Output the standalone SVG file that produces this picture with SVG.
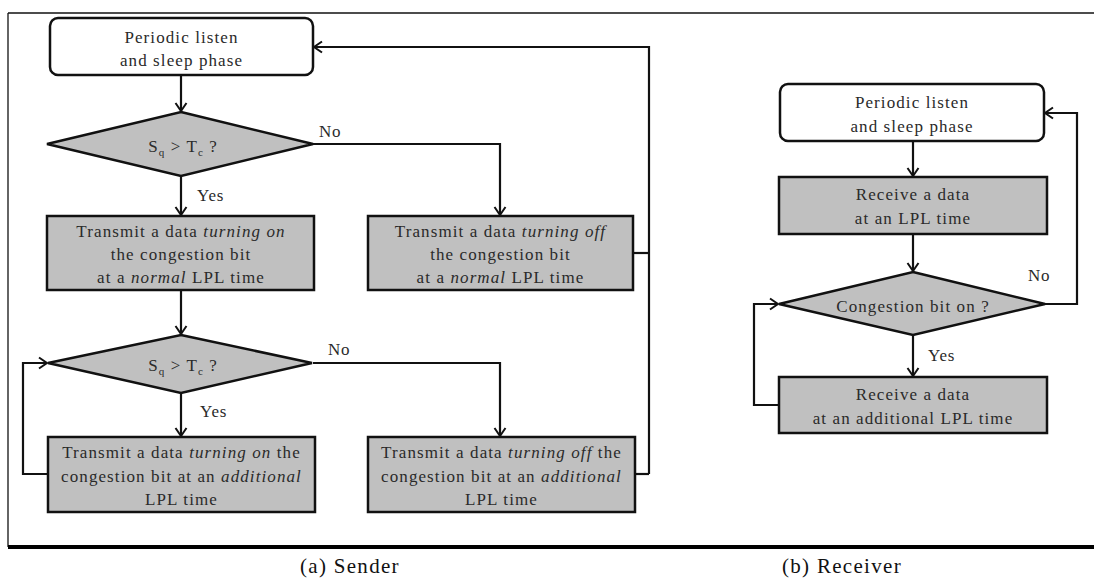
<svg xmlns="http://www.w3.org/2000/svg" width="1094" height="579" viewBox="0 0 1094 579">
<style>
.t{font-family:"Liberation Serif","Times New Roman",serif;font-size:17px;fill:#2a2a2a;text-anchor:middle;letter-spacing:1.1px}
.l{font-family:"Liberation Serif","Times New Roman",serif;font-size:17px;fill:#2a2a2a;letter-spacing:0.8px}
.cap{font-family:"Liberation Serif","Times New Roman",serif;font-size:21px;fill:#111;letter-spacing:1.3px}
.term{fill:#fff;stroke:#111;stroke-width:2.5}
.proc{fill:#c0c0c0;stroke:#111;stroke-width:2.5}
.c{fill:none;stroke:#111;stroke-width:2.2}
.ar{marker-end:url(#arr)}
.sub{font-size:11px}
</style>
<defs>
<marker id="arr" viewBox="-10 -7 12 14" refX="0" refY="0" markerWidth="12" markerHeight="14" markerUnits="userSpaceOnUse" orient="auto">
<path d="M-8,-5.5 L0,0 L-8,5.5" fill="none" stroke="#111" stroke-width="2"/>
</marker>
</defs>

<g id="frame">
<line x1="8" y1="13" x2="1094" y2="13" stroke="#111" stroke-width="1.3"/>
<line x1="8" y1="13" x2="8" y2="547" stroke="#111" stroke-width="1.3"/>
<line x1="8" y1="547" x2="1094" y2="547" stroke="#000" stroke-width="4"/>
</g>

<g id="connectors">
<path class="c ar" d="M181,75 V111"/>
<path class="c ar" d="M313,144 H500 V215"/>
<path class="c ar" d="M181,176 V215"/>
<path class="c" d="M633,253 H649"/>
<path class="c ar" d="M649,474 V47 H314"/>
<path class="c ar" d="M181,290 V334"/>
<path class="c ar" d="M313,363 H500 V436"/>
<path class="c ar" d="M181,393 V436"/>
<path class="c ar" d="M48,474 H23 V363 H47"/>
<path class="c" d="M635,474 H649"/>
<path class="c ar" d="M913,141 V176"/>
<path class="c ar" d="M913,234 V271"/>
<path class="c ar" d="M1045,304 H1077 V113 H1045"/>
<path class="c ar" d="M913,335 V376"/>
<path class="c ar" d="M779,405 H754 V304 H778"/>
<text class="l" x="319" y="137">No</text>
<text class="l" x="197" y="201">Yes</text>
<text class="l" x="328" y="355">No</text>
<text class="l" x="200" y="417">Yes</text>
<text class="l" x="1028" y="281">No</text>
<text class="l" x="928" y="361">Yes</text>
</g>

<g id="s_start">
<rect class="term" x="50" y="18" width="263" height="57" rx="8"/>
<text class="t" x="181.5" y="43">Periodic listen</text>
<text class="t" x="181.5" y="66">and sleep phase</text>
</g>

<g id="s_dec1">
<polygon class="proc" points="181,112 313,144 181,176 47,144"/>
<text class="t" x="183" y="152">S<tspan class="sub" dy="4">q</tspan><tspan dy="-4"> &gt; T</tspan><tspan class="sub" dy="4">c</tspan><tspan dy="-4"> ?</tspan></text>
</g>

<g id="s_on_normal">
<rect class="proc" x="47" y="216" width="267" height="74"/>
<text class="t" x="181" y="237">Transmit a data <tspan font-style="italic">turning on</tspan></text>
<text class="t" x="181" y="260">the congestion bit</text>
<text class="t" x="181" y="283">at a <tspan font-style="italic">normal</tspan> LPL time</text>
</g>

<g id="s_off_normal">
<rect class="proc" x="368" y="216" width="265" height="74"/>
<text class="t" x="500.5" y="237">Transmit a data <tspan font-style="italic">turning off</tspan></text>
<text class="t" x="500.5" y="260">the congestion bit</text>
<text class="t" x="500.5" y="283">at a <tspan font-style="italic">normal</tspan> LPL time</text>
</g>

<g id="s_dec2">
<polygon class="proc" points="181,335 312,363 181,393 48,363"/>
<text class="t" x="183" y="371">S<tspan class="sub" dy="4">q</tspan><tspan dy="-4"> &gt; T</tspan><tspan class="sub" dy="4">c</tspan><tspan dy="-4"> ?</tspan></text>
</g>

<g id="s_on_add">
<rect class="proc" x="48" y="437" width="267" height="75"/>
<text class="t" x="181.5" y="458">Transmit a data <tspan font-style="italic">turning on</tspan> the</text>
<text class="t" x="181.5" y="482">congestion bit at an <tspan font-style="italic">additional</tspan></text>
<text class="t" x="181.5" y="505">LPL time</text>
</g>

<g id="s_off_add">
<rect class="proc" x="368" y="437" width="267" height="75"/>
<text class="t" x="501.5" y="458">Transmit a data <tspan font-style="italic">turning off</tspan> the</text>
<text class="t" x="501.5" y="482">congestion bit at an <tspan font-style="italic">additional</tspan></text>
<text class="t" x="501.5" y="505">LPL time</text>
</g>

<g id="r_start">
<rect class="term" x="780" y="84" width="264" height="57" rx="8"/>
<text class="t" x="912" y="108">Periodic listen</text>
<text class="t" x="912" y="132">and sleep phase</text>
</g>

<g id="r_recv">
<rect class="proc" x="779" y="177" width="268" height="57"/>
<text class="t" x="913" y="200">Receive a data</text>
<text class="t" x="913" y="224">at an LPL time</text>
</g>

<g id="r_dec">
<polygon class="proc" points="913,272 1045,304 913,335 779,304"/>
<text class="t" x="913" y="312">Congestion bit on ?</text>
</g>

<g id="r_recv_add">
<rect class="proc" x="779" y="377" width="268" height="56"/>
<text class="t" x="913" y="400">Receive a data</text>
<text class="t" x="913" y="424">at an additional LPL time</text>
</g>

<g id="captions">
<text class="cap" x="300" y="573">(a) Sender</text>
<text class="cap" x="782" y="573">(b) Receiver</text>
</g>
</svg>
